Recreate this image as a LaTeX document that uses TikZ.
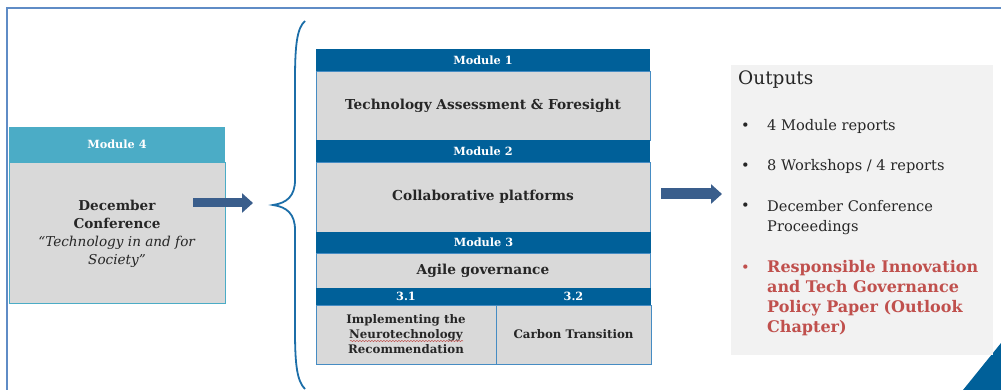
\documentclass[tikz,border=0pt]{standalone}
\usepackage{fontspec}
\setmainfont{DejaVu Serif}
\usetikzlibrary{arrows.meta,decorations.pathmorphing}

\begin{document}
\begin{tikzpicture}[x=1pt,y=-1pt,line width=0.4pt]
\definecolor{modblue}{RGB}{0,96,153}
\definecolor{modteal}{RGB}{75,172,198}
\definecolor{cellgrey}{RGB}{217,217,217}
\definecolor{cellline}{RGB}{70,140,195}
\definecolor{arrowblue}{RGB}{58,94,140}
\definecolor{bracecol}{RGB}{28,110,168}
\definecolor{framecol}{RGB}{95,140,198}
\definecolor{panelgrey}{RGB}{242,242,242}
\definecolor{outred}{RGB}{192,80,77}
\definecolor{txtgrey}{RGB}{38,38,38}
\providecommand{\fhead}{\fontsize{11.3}{13}\selectfont}
\providecommand{\fbody}{\fontsize{13.7}{16}\selectfont}
\providecommand{\fsub}{\fontsize{11.8}{15}\selectfont}
\providecommand{\fconf}{\fontsize{13.6}{18}\selectfont}
\providecommand{\fitem}{\fontsize{14.6}{20}\selectfont}
\providecommand{\fitemb}{\fontsize{16}{20}\selectfont}
\providecommand{\ftitle}{\fontsize{18.5}{22}\selectfont}
\tikzset{modhead/.style={fill=modblue,text=white,font=\fhead\bfseries,inner sep=0pt},cell/.style={draw=cellline,fill=cellgrey,text=txtgrey,font=\fbody\bfseries,inner sep=0pt,align=center},subcell/.style={cell,font=\fsub\bfseries},outitem/.style={anchor=base west,inner sep=0pt,font=\fitem,text=txtgrey,align=left},bullet/.style={anchor=base west,inner sep=0pt,font=\fitem,text=txtgrey},blockarr/.style={draw=arrowblue,-{Triangle[length=11pt,width=19pt]}}}
\useasboundingbox (0,0) rectangle (1001,390);
% frame along the top and the left side
\draw[framecol,line width=1.3pt] (1001,8) -- (7,8) -- (7,390);
% corner mark
\fill[modblue] (963,390) -- (1001,343) -- (1001,390) -- cycle;
% module 4, left
\node[fill=modteal,text=white,font=\fhead\bfseries,inner sep=0pt,minimum width=216pt,minimum height=35pt] (m4head) at (117,144.5) {Module 4};
\node[draw=modteal,fill=cellgrey,inner sep=0pt,minimum width=216pt,minimum height=141pt] (m4body) at (117,232.5) {};
\node[text=txtgrey,font=\fconf,align=center,inner sep=0pt] (m4text) at (117,234) {\textbf{December}\\\textbf{Conference}\\\textit{“Technology in and for}\\\textit{Society”}};
% module stack
\node[modhead,minimum width=334pt,minimum height=22pt] (m1head) at (483,60) {Module 1};
\node[cell,minimum width=334pt,minimum height=69pt] (m1body) at (483,105.5) {Technology Assessment \& Foresight};
\node[modhead,minimum width=334pt,minimum height=22pt] (m2head) at (483,151) {Module 2};
\node[cell,minimum width=334pt,minimum height=70pt] (m2body) at (483,197) {Collaborative platforms};
\node[modhead,minimum width=335pt,minimum height=21pt] (m3head) at (483.5,242.5) {Module 3};
\node[cell,minimum width=334pt,minimum height=35pt] (m3body) at (483,271) {Agile governance};
\node[modhead,minimum width=180pt,minimum height=17pt] (m31head) at (406,296.5) {3.1};
\node[modhead,minimum width=155pt,minimum height=17pt] (m32head) at (573.5,296.5) {3.2};
\node[subcell,minimum width=180pt,minimum height=59pt] (m31body) at (406,334.5) {Implementing the\\Neurotechnology\\Recommendation};
\node[subcell,minimum width=155pt,minimum height=59pt] (m32body) at (573.5,334.5) {Carbon Transition};
\draw[outred,line width=0.5pt,decorate,decoration={snake,amplitude=0.6pt,segment length=3pt}] (350,341) -- (463,341);
% brace over the stack
\draw[bracecol,line width=1.8pt] (305,21) .. controls (297,28) and (295,45) .. (295,80) -- (295,180) .. controls (295,196) and (287,203) .. (273,205) .. controls (287,207) and (295,214) .. (295,230) -- (295,330) .. controls (295,365) and (297,381) .. (305,389);
% arrows
\coordinate (a1s) at (193,203);
\coordinate (a1e) at (253,203);
\coordinate (a2s) at (661,194);
\coordinate (a2e) at (722,194);
\draw[blockarr,line width=9pt] (a1s) -- (a1e);
\draw[blockarr,line width=11pt] (a2s) -- (a2e);
% outputs panel (multi-line items sit on their last baseline)
\node[fill=panelgrey,inner sep=0pt,minimum width=262pt,minimum height=290pt] (outbox) at (862,210) {};
\node[anchor=base west,inner sep=0pt,font=\ftitle,text=txtgrey] (outtitle) at (738,85) {Outputs};
\node[bullet] (b1) at (741,131) {•};
\node[outitem] (o1) at (767,131) {4 Module reports};
\node[bullet] (b2) at (741,171) {•};
\node[outitem] (o2) at (767,171) {8 Workshops / 4 reports};
\node[bullet] (b3) at (741,211) {•};
\node[outitem] (o3) at (767,231.5) {December Conference\\Proceedings};
\node[bullet,text=outred] (b4) at (741,272.5) {•};
\node[outitem,text=outred,font=\fitemb\bfseries] (o4) at (767,332) {Responsible Innovation\\and Tech Governance\\Policy Paper (Outlook\\Chapter)};
\end{tikzpicture}
\end{document}
